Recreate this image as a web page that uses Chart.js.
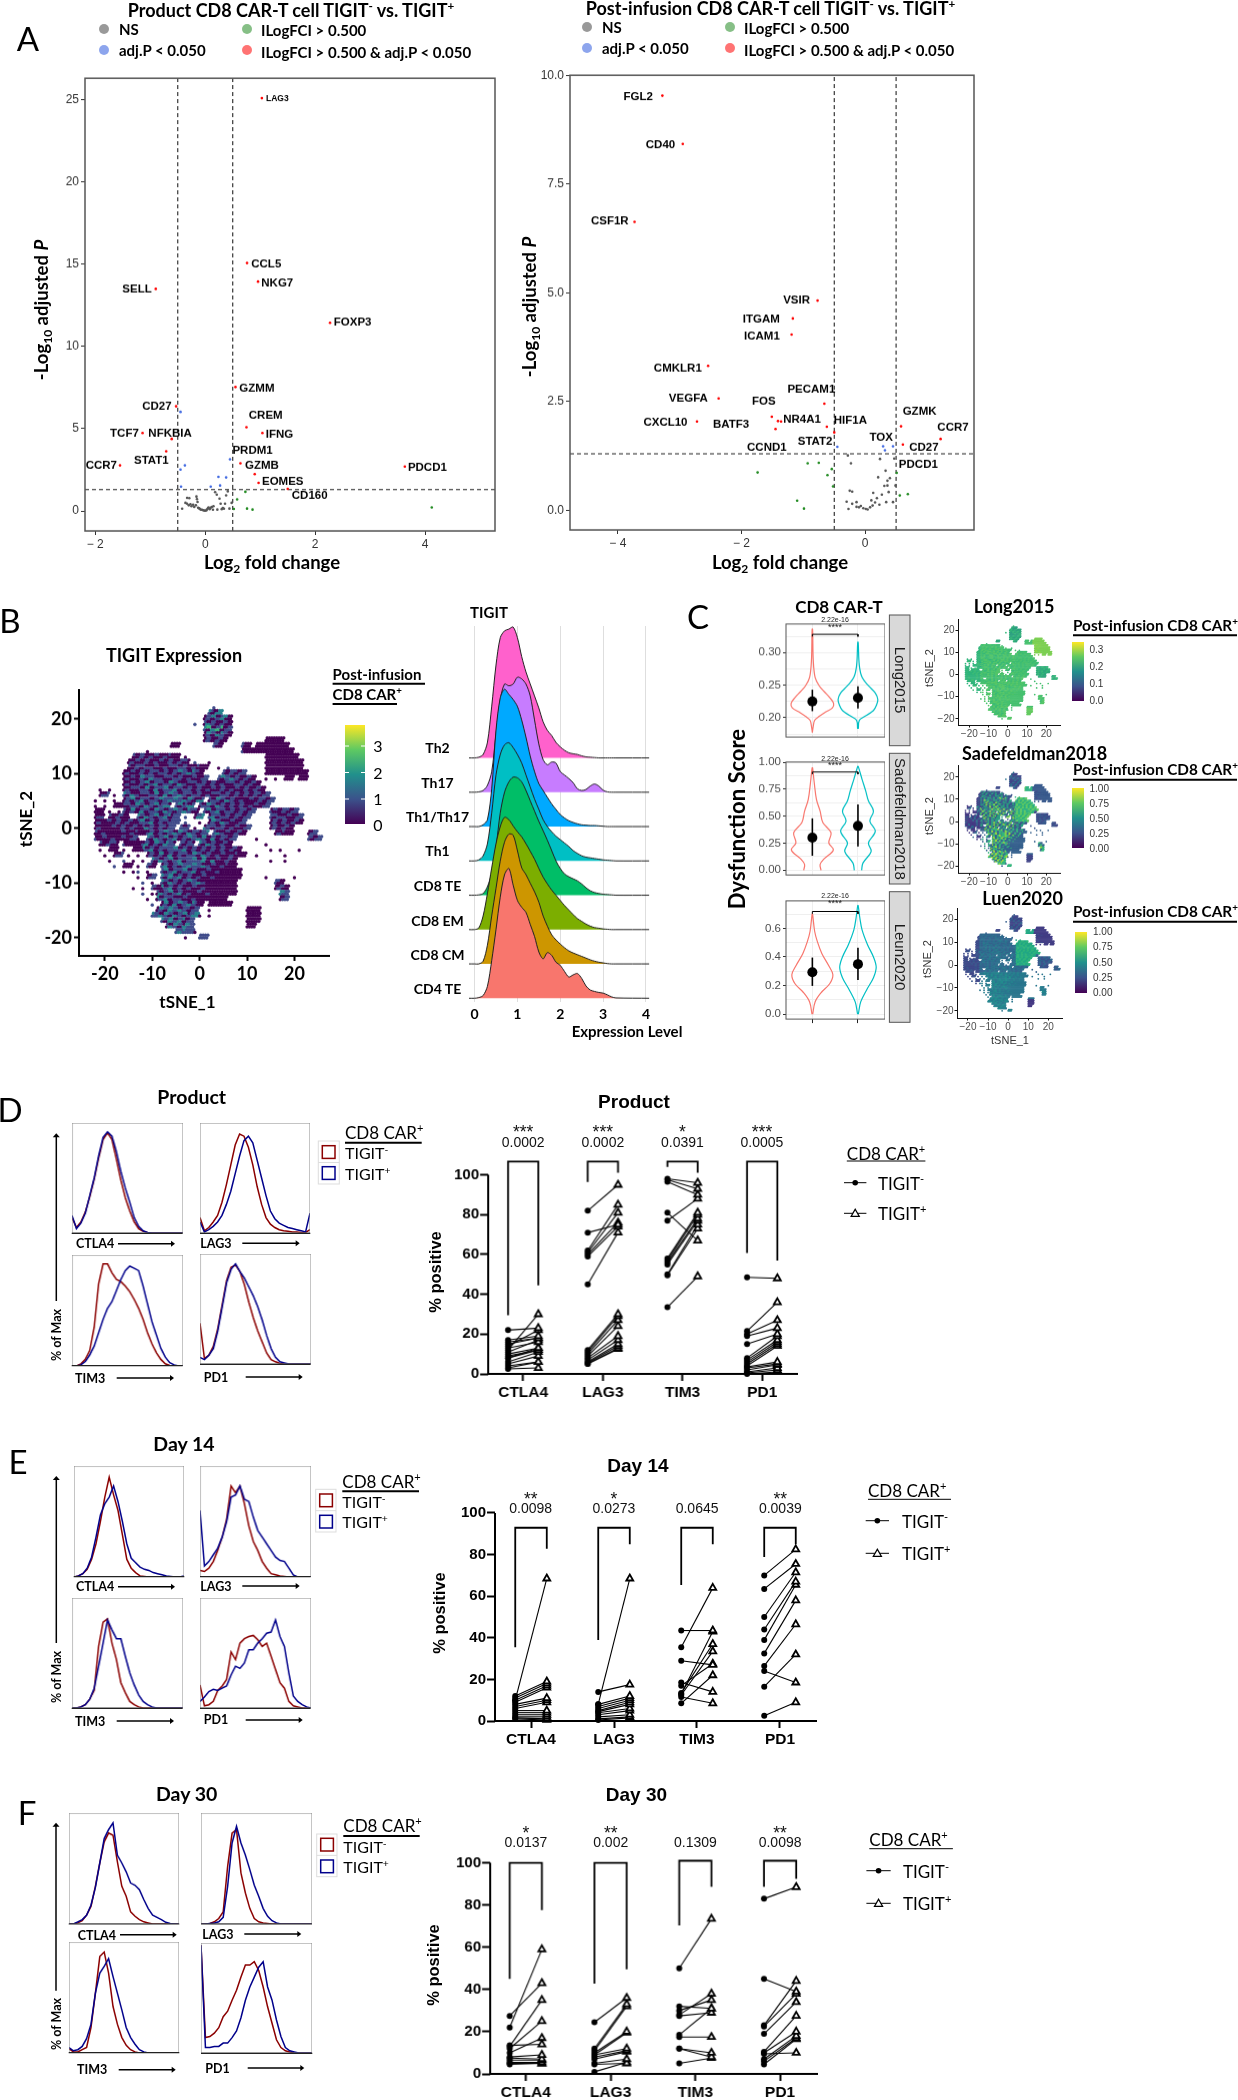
<!DOCTYPE html>
<html>
<head>
<meta charset="utf-8">
<script src="https://cdn.jsdelivr.net/npm/chart.js@4"></script>
<style>
html,body{margin:0;padding:0;background:#fff}
#page{position:relative;width:1238px;height:2100px;overflow:hidden;background:#fff}
canvas{position:absolute}
.t{position:absolute;white-space:nowrap;line-height:1;color:#000;z-index:2}
sup,sub{font-size:.65em;line-height:0}
#overlay{position:absolute;left:0;top:0;pointer-events:none;z-index:1}
</style>
</head>
<body>
<div id="page"></div>
<script>
// ---- panel A: volcano data [log2fc, -log10 padj]
const prodRed=[[1.03,25.07],[.76,15.06],[.96,13.93],[-.9,13.49],[2.27,11.43],[.55,7.53],[-.53,6.36],[.75,5.09],[1.04,4.74],[-1.14,4.74],[-.61,4.38],[-.71,3.63],[.64,2.9],[-1.55,2.77],[3.63,2.7],[.9,2.24],[.97,1.71],[1.5,1.35]];
const prodBlue=[[-.45,6.02],[.45,3.14],[-.37,2.77],[-.45,2.52],[.24,2.08],[.38,2.04],[-.44,1.48],[.1,1.48],[.27,1.55]];
const prodGreen=[[.73,1.17],[.58,.71],[.52,.13],[.76,.15],[.86,.09],[4.12,.22]];
const prodGrey=[[-.42,.14],[-.36,.5],[-.33,.8],[-.29,.78],[-.33,.45],[-.3,.35],[-.27,.42],[-.25,.3],[-.22,.38],[-.2,.25],[-.17,.35],[-.16,.88],[-.15,.72],[-.14,.55],[-.13,.2],[-.11,.17],[-.1,.13],[-.08,.08],[-.06,.08],[-.04,.05],[-.02,.03],[0,.02],[.02,.04],[.03,.1],[.05,.17],[.06,.22],[.08,.12],[.1,.2],[.12,.25],[.14,.08],[.15,.3],[.18,1.15],[.21,1],[.22,.09],[.26,.75],[.28,.45],[.3,.12],[.32,.18],[.34,.14],[.36,.45],[.38,.95],[.41,1.2],[.44,.15],[.48,.5]];
const prodLabels=[['LAG3',1.31,25.04,8.5],['CCL5',1.11,14.96],['NKG7',1.31,13.82],['SELL',-1.24,13.49],['FOXP3',2.68,11.43],['GZMM',.94,7.47],['CD27',-.88,6.36],['CREM',1.1,5.82],['IFNG',1.35,4.67],['TCF7',-1.47,4.7],['NFKBIA',-.64,4.72],['STAT1',-.98,3.08],['PRDM1',.86,3.67],['CCR7',-1.89,2.75],['PDCD1',4.04,2.61],['GZMB',1.03,2.75],['EOMES',1.41,1.77],['CD160',1.9,.96]];

const postRed=[[-3.28,9.53],[-2.95,8.42],[-3.73,6.63],[-.77,4.82],[-1.17,4.41],[-1.19,4.04],[-2.54,3.32],[-2.37,2.57],[-.66,2.45],[-2.72,2.04],[-1.51,2.15],[-1.41,2.05],[-1.36,2.04],[-1.45,1.87],[-.62,1.92],[-.5,1.79],[.58,1.93],[1.22,1.64],[.61,1.51]];
const postBlue=[[-.45,1.46],[.29,1.47],[.32,1.38],[.45,1.47]];
const postGreen=[[-.93,1.08],[-.75,1.09],[-.54,.95],[-1.74,.87],[-.61,.81],[-.52,.55],[-1.1,.22],[-.99,.04],[.56,.34],[.69,.37],[.51,.86]];
const postGrey=[[-.28,1.26],[-.23,1.08],[.24,1.18],[.47,1.19],[.33,.91],[.21,.76],[.4,.74],[.36,.68],[.31,.56],[.36,.57],[.49,.57],[-.25,.45],[-.21,.43],[.13,.4],[.27,.36],[.38,.42],[.19,.28],[.1,.23],[-.3,.2],[-.14,.19],[.34,.19],[.45,.19],[.23,.13],[-.21,.15],[-.07,.1],[-.14,.08],[.01,.03],[.04,.02],[-.1,.07],[-.03,.05],[-.27,.03],[.12,.11],[.08,.07],[.16,.18]];
const postLabels=[['FGL2',-3.67,9.51],['CD40',-3.31,8.4],['CSF1R',-4.13,6.65],['VSIR',-1.11,4.83],['ITGAM',-1.68,4.38],['ICAM1',-1.67,3.99],['CMKLR1',-3.03,3.27],['VEGFA',-2.86,2.57],['FOS',-1.64,2.49],['PECAM1',-.87,2.77],['CXCL10',-3.23,2.02],['BATF3',-2.17,1.98],['NR4A1',-1.02,2.09],['HIF1A',-.24,2.07],['GZMK',.88,2.27],['CCR7',1.42,1.89],['TOX',.26,1.66],['STAT2',-.81,1.57],['CCND1',-1.59,1.45],['CD27',.95,1.43],['PDCD1',.86,1.04]];

// ---- panel B/C: tSNE map, rows of [y, x0, levels, x0, levels...]
const tsneRows=[
[22,3,'1'],[21,2,'102'],[20,1,'010120'],[19,-1,'1',1,'021010'],[18,1,'102301'],[17,1,'010210'],
[16,1,'01010',14,'0000'],[15,-6,'00',3,'10',9,'10.00',14,'00000'],[14,-11,'0',9,'10000',14,'000000'],
[13,-14,'0010100100.0',14,'0001000'],[12,-15,'0100101001010.1',2,'0',14,'00100000'],
[11,-15,'00101100100110100',4,'0.1',14,'01000000'],[10,-16,'01001010110101210',5,'10101',14,'000100000'],
[9,-16,'010010211001101001',3,'.10121010',14,'0.0.00.00'],[8,-16,'01001012011021001101010011010'],
[7,-21,'0.0',-16,'010011020112011010100101001010'],[6,-21,'01.0',-16,'1021001102012101101001101010101'],
[5,-22,'0.0.0',-16,'01012011012112102.01102101000101'],[4,-22,'0.0.00',-16,'0011021012.1012.011021010101001'],
[3,-22,'00.0.0.',-16,'1010201102101210.10120110101',15,'100101'],[2,-22,'01.0010',-15,'0.102101201.1.02.120110101',15,'1011001'],
[1,-22,'010001010',-13,'011201011.1..0.01021001',15,'0101010'],[0,-22,'0100001010',-12,'0210101.11.0.2101101001',15,'01010'],
[-1,-22,'00100000100',-11,'1201012102101.1210010',16,'0100',23,'01'],[-2,-22,'100010001',-13,'0.1021012010121020101',12,'0',23,'101'],
[-3,-21,'0010.1000',-12,'1201021.101.1021010',14,'0'],[-4,-21,'0.00.0.00',-12,'012010111201010101010',15,'0',17,'0',21,'0'],
[-5,-20,'0.01.0',-13,'0.010102010110210100100',12,'0',18,'0'],[-6,-19,'0..1.0',-12,'0.102101201112020010',15,'0',18,'0'],
[-7,-18,'1.00',-13,'0.10',-8,'1201012112100100'],[-8,-16,'0.0',-13,'1.0.',-8,'10120112010010000'],
[-9,-13,'0.01..',-8,'10212010100100000',14,'0',20,'0'],[-10,-13,'.1.0',-8,'1021010121000000',16,'10'],
[-11,-14,'0.0.10',-8,'0120101001000000',16,'010'],[-12,-12,'1.0',-9,'02101201000100000',17,'21'],
[-13,-11,'0.1',-9,'012011001000000',17,'01'],[-14,-10,'1.010201210.00000'],[-15,-10,'.010212101',1,'.0',10,'000'],
[-16,-10,'1121021012',0,'0.0',10,'000'],[-17,-9,'.1021201',10,'000'],[-18,-7,'021021',10,'00'],
[-19,-5,'1211',-1,'0'],[-20,-3,'0',0,'11']];
const tigitColors=['#440154','#3e4a89','#26828e','#35b779'];
const longColors={ur:['#7ccf52','#8fd744','#6ece58'],top:['#2fa67c','#35b779','#2a9d80'],right:['#2fa67c','#35b779','#2a9d80'],bot:['#62c95f','#76d054','#5ac864'],band:['#48c16e','#3dbc74','#53c568'],left:['#2fb47c','#3bbb75','#26a784'],low:['#46c06f','#56c667','#3aba76'],mid:['#3fbc73','#52c569','#35b779']};
const sadeColors={ur:['#38598c','#3f4788','#2a788e'],top:['#3e4989','#2c728e','#414487'],right:['#38598c','#3f4788','#2a788e'],bot:['#404588','#33638d','#414487'],band:['#2ab07f','#5ec962','#1f968b'],left:['#443983','#2e6e8e','#29af7f'],low:['#35608d','#31b57b','#a0da39'],mid:['#3b528b','#2a9d80','#8bd646']};
const luenColors={ur:['#433e85','#3d4d8a','#3a548c'],top:['#3f4889','#355f8d','#414487'],right:['#3b528b','#31688e','#414487'],bot:['#443983','#404588','#414487'],band:['#22a884','#2fb47c','#1f9e89'],left:['#3e4989','#38578c','#2f6c8e'],low:['#2a768e','#26828e','#218f8d'],mid:['#33638d','#2c718e','#287c8e']};

// ---- panel B: ridge densities, one value per ridgeX
const ridgeX=[0,.1,.2,.3,.4,.5,.6,.7,.8,.9,1,1.1,1.2,1.3,1.4,1.5,1.6,1.7,1.8,1.9,2,2.1,2.2,2.3,2.4,2.5,2.6,2.7,2.8,2.9,3,3.1,3.2,3.3];
const ridgeNames=['CD4 TE','CD8 CM','CD8 EM','CD8 TE','Th1','Th1/Th17','Th17','Th2'];
const ridgeNameY=[989.3,955,920.7,886,851.3,817,782.7,748];
const ridgeColors=['#F8766D','#CD9600','#7CAE00','#00BE67','#00BFC4','#00A9FF','#C77CFF','#FF61CC'];
const rCd4te=[0,.02,.08,.35,1.1,2,2.95,3.6,3.78,3.3,2.85,2.65,2.5,2.15,1.8,1.35,1.15,1.33,1.25,1.05,.96,.78,.62,.68,.72,.58,.36,.24,.2,.17,.15,.1,.04,.01];
const rCd8cm=[0,0,.08,.55,1.4,2.2,3,3.55,3.78,3.75,3.3,2.8,2.6,2.35,2.1,1.8,1.4,1.1,.85,.7,.58,.47,.38,.32,.27,.22,.17,.12,.08,.05,.03,.01,0,0];
const rCd8em=[0,.05,.4,1.05,1.8,2.5,3,3.27,3.2,3.02,2.85,2.7,2.5,2.28,2.05,1.78,1.53,1.33,1.15,1,.85,.7,.57,.44,.32,.24,.16,.1,.06,.04,.02,.01,0,0];
const rCd8te=[0,.01,.05,.25,.65,1.4,2.4,3,3.3,3.44,3.42,3.3,3.05,2.75,2.45,2.15,1.88,1.6,1.3,1,.78,.62,.54,.48,.42,.33,.22,.13,.08,.05,.03,.02,.01,0];
const rTh1=[0,.03,.15,.5,1.4,2.5,3.1,3.38,3.44,3.3,3.1,2.85,2.5,2.15,1.8,1.5,1.2,1,.85,.72,.62,.52,.42,.3,.22,.15,.11,.09,.07,.05,.03,.02,.01,0];
const rTh1Th17=[0,0,.05,.2,1.1,2.8,3.75,4,3.85,3.7,3.5,3.1,2.6,2.05,1.6,1.25,1.05,.85,.66,.5,.35,.25,.17,.12,.08,.05,.04,.03,.03,.02,.01,0,0,0];
const rTh17=[0,.01,.05,.2,.6,1.7,2.7,3.15,3.1,3.15,3.35,3.3,3.15,2.8,2.1,1.4,.95,.8,.88,.85,.6,.5,.4,.28,.1,.05,.08,.18,.24,.18,.06,.01,0,0];
const rTh2=[0,.02,.1,.45,1.5,2.7,3.5,3.7,3.75,3.81,3.5,2.95,2.5,2.15,1.8,1.45,1.05,.8,.65,.45,.32,.22,.15,.12,.1,.06,.03,.02,.01,0,0,0,0,0];

// ---- panel C: violins, half-width at score
const v1RedY=[.177,.187,.196,.202,.209,.215,.222,.231,.24,.249,.262,.288,.336], v1RedW=[0,.02,.05,.15,.3,.44,.466,.38,.26,.15,.06,.02,.005];
const v1TealY=[.183,.196,.202,.211,.22,.228,.238,.249,.262,.28,.316], v1TealW=[.008,.03,.15,.34,.41,.436,.38,.23,.09,.03,.005];
const v2RedY=[0,.053,.107,.187,.254,.348,.441,.548,.655,.815,.949], v2RedW=[.19,.17,.26,.46,.36,.41,.23,.17,.09,.04,.005];
const v2TealY=[0,.067,.174,.254,.361,.455,.548,.642,.735,.842,.963], v2TealW=[.08,.11,.29,.23,.38,.26,.34,.23,.17,.09,.005];
const v3RedY=[0,.086,.15,.213,.276,.339,.423,.507,.58,.7], v3RedW=[.008,.06,.19,.38,.45,.36,.21,.11,.05,.005];
const v3TealY=[0,.086,.17,.255,.328,.4,.486,.59,.676,.76], v3TealW=[.008,.06,.19,.34,.4,.34,.21,.09,.04,.005];
const violinStats=[[[.225,.21,.243],[.2305,.214,.248]],[[.302,.134,.48],[.41,.22,.61]],[[.293,.198,.396],[.35,.24,.465]]];
const bracketLevels=[.328,.91,.718];

// ---- panels D-F: flow histograms (% of max every 4 units of the x range)
const histX=[0,4,8,12,16,20,24,28,32,36,40,44,48,52,56,60,64,68,72,76,80,84,88,92,96,100];
const dCtlaNeg=[14,5,10,19,33,49,68,85,91,85,67,48,32,20,10,4,1.5,.5];
const dCtlaPos=[16,4,9,18,34,50,70,87,92,88,74,56,41,28,14,6,2,.5];
const dLagNeg=[14,2,5,10,16,28,44,62,80,90,88,78,62,42,26,14,8,5,3,2,1.5,1,1,.5,.5,3];
const dLagPos=[10,1,3,6,10,16,26,38,54,70,84,88,82,66,50,34,20,13,9,7,5,4,3,2,1,18];
const dTimNeg=[0,0,2,6,14,35,74,92,92,84,78,76,72,67,60,52,42,30,20,12,6,2,.5];
const dTimPos=[0,0,1,4,10,18,30,42,52,58,68,78,86,90,88,86,72,56,40,28,16,8,3,1];
const dPdNeg=[37,5,8,16,32,54,76,88,90,84,72,56,42,30,20,10,4,2,.5];
const dPdPos=[6,4,8,14,30,52,74,86,91,84,78,70,62,52,40,26,14,6,2,1];
const eCtlaNeg=[0,1,3,7,16,30,50,72,90,74,60,38,16,8,4,1,.5];
const eCtlaPos=[0,1,3,8,18,36,56,66,72,82,68,50,30,17,13,9,7,6,4,3,2,1,.5,0,0,1];
const eLagNeg=[6,5,8,14,24,36,52,82,76,82,66,46,32,24,14,8,3,2,1,.5];
const eLagPos=[60,10,14,20,26,36,50,72,74,82,70,68,54,42,36,30,24,18,15,14,8,2];
const eTimNeg=[0,0,1,3,8,16,56,78,81,59,44,23,14,6,3,1];
const eTimPos=[0,0,1,3,8,18,38,59,80,71,63,63,47,32,21,12,6,3,1];
const ePdNeg=[21,2,3,6,16,20,26,51,44,59,63,65,66,62,56,59,47,35,23,18,6,2,1];
const ePdPos=[6,10,15,17,16,18,20,30,38,36,41,53,53,59,63,68,69,80,65,56,32,11,6,3,1];
const fCtlaNeg=[0,0,1,3,8,16,34,55,74,82,80,56,34,25,11,7,4,2,1];
const fCtlaPos=[0,0,2,4,8,17,33,55,77,85,91,62,55,47,37,35,31,22,14,8,6,4,1.5,.5];
const fLagNeg=[0,0,.5,2,5,11,52,82,85,46,28,14,5,2,1,.5];
const fLagPos=[0,0,.5,1,2,6,34,73,88,73,62,49,35,25,14,7,3,1];
const fTimNeg=[4,1,1,3,5,23,54,87,91,72,42,26,14,7,3,1];
const fTimPos=[5,2,3,6,13,26,54,72,78,85,69,54,39,23,14,8,3,1];
const fPdNeg=[98,14,15,18,23,33,38,48,57,69,80,80,83,75,60,42,27,12,5,2,1];
const fPdPos=[98,5,5,6,6,9,9,14,20,32,48,60,69,78,83,60,48,30,15,5,2,1];

// ---- panels D-F: paired % positive [TIGIT-, TIGIT+]
const markers=['CTLA4','LAG3','TIM3','PD1'];
const prodCtla=[[22,23],[12,30],[17,19],[16,18],[15,18],[13,16],[11,17],[10,13],[9,12],[8,12],[6,11],[5,9],[4,6],[3,6],[2.5,3],[8,13],[14,22]];
const prodLag=[[82,95],[71,75],[62,85],[61,81],[60,76],[59,74],[45,71],[12,30],[11,29],[10,27],[9,24],[8,19],[7,17],[6,15],[5.5,14],[5,13],[5,12.5]];
const prodTim=[[98,96],[97.5,93],[96.5,90],[81,67],[77,88],[58,81],[57,80],[56,78],[55,77],[50,75],[49.5,73],[33.5,49]];
const prodPd=[[48.5,48],[21.5,36],[20,27],[19,23],[15,20],[8,19],[7,17],[6,16],[5,15],[4,14],[3.5,6],[3,5],[2,4.5],[1,3],[.5,2],[0,1]];
const d14Ctla=[[12,19],[11,18],[10,17],[9,16],[8,11],[7,10],[6,9],[5,5],[4,4],[3,3],[2,2],[1.5,1],[1,.5],[10,68.5]];
const d14Lag=[[8,68.5],[14,17.5],[8,12],[7,11],[6,10],[5,9],[4.5,8],[4,6],[3,5],[2,3],[1,2],[.5,1.5]];
const d14Tim=[[43.5,43.5],[35.5,64],[29,27],[18.5,14],[17,27.5],[13.5,37],[12.5,33.5],[11.5,8.5],[8.5,22],[13,43]];
const d14Pd=[[70,82.5],[63.5,75.5],[50,71.5],[44,67],[39,65.5],[32.5,58],[26.5,46.5],[24,18.5],[16.5,32],[2.5,9]];
const d30Ctla=[[27.5,43],[22,59],[13.5,14],[13,35],[12,25],[10,17],[8,9],[7.5,7],[6.5,6.5],[5.5,5.5],[5,5],[4.5,5]];
const d30Lag=[[24.5,36],[12,33],[11,32],[10,20],[9,19.5],[9,12],[8,11],[7,10.5],[5,7],[4.5,5],[1,5.5]];
const d30Tim=[[50,73.5],[32,31],[30,35],[28,38],[27.5,29],[18.5,31],[17.5,17.5],[12,10],[12,8],[5,7.5]];
const d30Pd=[[83,88.5],[45,39],[23,44],[22.5,38],[19,34],[10.5,27.5],[10,20],[9.5,10],[7,18],[6,17],[4.5,16.5]];
const prodBrackets=[[29.5,106.7,44.5],[96.4,106.7,101],[104,106.7,101],[60.7,106.7,57]];
const d14Brackets=[[35.4,92.9,82.8],[39,92.9,85],[65.4,92.9,85],[78.9,92.9,85]];
const d30Brackets=[[45,100,77.6],[42.8,100,49.5],[70.4,101,88.7],[88.7,101,92.5]];
const prodP=['0.0002','0.0002','0.0391','0.0005'], prodStars=['***','***','*','***'];
const d14P=['0.0098','0.0273','0.0645','0.0039'], d14Stars=['**','*','','**'];
const d30P=['0.0137','0.002','0.1309','0.0098'], d30Stars=['*','**','','**'];

// ---- helpers
const page=document.getElementById('page');
const LATO='Lato, sans-serif', ARIAL='"Liberation Sans", Arial, sans-serif';
let overlay='';

function txt(s,x,y,o={}){
  const d=document.createElement('div');
  d.className='t';
  d.innerHTML=s;
  d.style.left=x+'px';
  d.style.top=y+'px';
  d.style.fontFamily=o.font||LATO;
  d.style.fontSize=(o.size||14)+'px';
  d.style.fontWeight=o.weight||'normal';
  if(o.color) d.style.color=o.color;
  let tr=o.left?'translate(0,-50%)':'translate(-50%,-50%)';
  if(o.rot) tr+=' rotate('+o.rot+'deg)';
  d.style.transform=tr;
  page.appendChild(d);
  return d;
}
function line(x1,y1,x2,y2,c='#000',w=1){
  overlay+=`<line x1="${x1}" y1="${y1}" x2="${x2}" y2="${y2}" stroke="${c}" stroke-width="${w}"/>`;
}
function arrowRight(x1,x2,y){
  line(x1,y,x2-2,y,'#000',1.5);
  overlay+=`<polygon points="${x2},${y} ${x2-4},${y-3} ${x2-4},${y+3}" fill="#000"/>`;
}
function arrowUp(x,y1,y2){
  line(x,y1,x,y2+2,'#000',1.5);
  overlay+=`<polygon points="${x},${y2} ${x-3.5},${y2+4} ${x+3.5},${y2+4}" fill="#000"/>`;
}
function rect(x,y,w,h,c,lw,fill='none'){
  overlay+=`<rect x="${x}" y="${y}" width="${w}" height="${h}" fill="${fill}" stroke="${c}" stroke-width="${lw}"/>`;
}
function dot(x,y,r,c,op=1){
  overlay+=`<circle cx="${x}" cy="${y}" r="${r}" fill="${c}" fill-opacity="${op}"/>`;
}
function colorbar(x,y,w,h){
  const d=document.createElement('div');
  d.style.cssText=`position:absolute;left:${x}px;top:${y}px;width:${w}px;height:${h}px;background:linear-gradient(to top,#440154,#3b528b,#21908c,#5ec962,#fde725)`;
  page.appendChild(d);
}

const framePlugin={id:'frame',afterDraw(c,a,o){
  if(!o.color) return;
  const r=c.chartArea,x=c.ctx;
  x.save();x.strokeStyle=o.color;x.lineWidth=o.width||1;
  x.strokeRect(r.left,r.top,r.right-r.left,r.bottom-r.top);
  x.restore();
}};
const geneLabels={id:'geneLabels',afterDatasetsDraw(c,a,o){
  if(!o.items) return;
  const x=c.ctx;
  x.save();x.fillStyle='#000';x.textAlign='center';x.textBaseline='middle';
  o.items.forEach(l=>{
    x.font='bold '+(l[3]||11.5)+'px '+ARIAL;
    x.fillText(l[0],c.scales.x.getPixelForValue(l[1]),c.scales.y.getPixelForValue(l[2]));
  });
  x.restore();
}};
Chart.register(framePlugin,geneLabels);

const fixedTicks=v=>s=>{s.ticks=v.map(value=>({value}))};

// box is the plot area in page pixels, m the room round it for axes
function makeChart(box,m,cfg){
  const c=document.createElement('canvas');
  const w=box.r-box.l+m.l+m.r, h=box.b-box.t+m.t+m.b;
  c.width=w;c.height=h;
  c.style.left=(box.l-m.l)+'px';c.style.top=(box.t-m.t)+'px';
  c.style.width=w+'px';c.style.height=h+'px';
  page.appendChild(c);
  const o=cfg.options=cfg.options||{};
  o.responsive=false;o.animation=false;o.devicePixelRatio=1;
  o.layout={autoPadding:false,padding:{top:m.t,right:m.r,left:0,bottom:0}};
  o.plugins=Object.assign({legend:{display:false},tooltip:{enabled:false}},o.plugins||{});
  if(o.scales.x.display!==false) o.scales.x.afterFit=s=>{s.height=m.b};
  if(o.scales.y.display!==false) o.scales.y.afterFit=s=>{s.width=m.l};
  return new Chart(c,cfg);
}
const pts=a=>a.map(p=>({x:p[0],y:p[1]}));

// ---- A
function volcano(box,xr,yr,xt,yt,yFmt,sets,labels){
  const dots=(data,color)=>({type:'scatter',data:pts(data),pointRadius:1.3,pointBorderWidth:0,backgroundColor:color});
  const dash=data=>({type:'line',data:pts(data),borderColor:'#222',borderWidth:1.1,borderDash:[4,3],pointRadius:0});
  makeChart(box,{l:40,r:2,t:2,b:30},{type:'scatter',data:{datasets:[
    dots(sets.red,'#ff0000'),dots(sets.blue,'#4169e1'),dots(sets.green,'#228b22'),dots(sets.grey,'#555555'),
    dash([[-.5,yr[0]],[-.5,yr[1]]]),dash([[.5,yr[0]],[.5,yr[1]]]),dash([[xr[0],1.3],[xr[1],1.3]])
  ]},options:{
    plugins:{frame:{color:'#555',width:1.5},geneLabels:{items:labels}},
    scales:{
      x:{type:'linear',min:xr[0],max:xr[1],afterBuildTicks:fixedTicks(xt),border:{display:false},
        grid:{drawOnChartArea:false,tickLength:4,tickColor:'#333'},
        ticks:{color:'#333',font:{family:ARIAL,size:12},maxRotation:0,autoSkip:false,padding:2,callback:v=>String(v).replace('-','\u2212 ')}},
      y:{min:yr[0],max:yr[1],afterBuildTicks:fixedTicks(yt),border:{display:false},
        grid:{drawOnChartArea:false,tickLength:4,tickColor:'#333'},
        ticks:{color:'#333',font:{family:ARIAL,size:12},autoSkip:false,padding:2,callback:yFmt}}
    }}});
}
volcano({l:84.7,r:495.3,t:71,b:530.5},[-2.187,5.27],[-1.21,26.28],[-2,0,2,4],[0,5,10,15,20,25],v=>v,
  {red:prodRed,blue:prodBlue,green:prodGreen,grey:prodGrey},prodLabels);
volcano({l:569.5,r:974.2,t:68,b:529.8},[-4.774,1.76],[-.452,10],[-4,-2,0],[0,2.5,5,7.5,10],v=>v.toFixed(1),
  {red:postRed,blue:postBlue,green:postGreen,grey:postGrey},postLabels);

txt('A',28,38,{size:33});
txt('Product CD8 CAR-T cell TIGIT<sup>-</sup> vs. TIGIT<sup>+</sup>',291,10,{size:18,weight:'bold'});
txt('Post-infusion CD8 CAR-T cell TIGIT<sup>-</sup> vs. TIGIT<sup>+</sup>',770.5,8,{size:18,weight:'bold'});
function volcanoLegend(x1,x2,tx1,tx2,y1,y2){
  dot(x1,y1,5,'#808080',.8);dot(x1,y2,5,'#4169e1',.6);dot(x2,y1,5,'#228b22',.55);dot(x2,y2,5,'#ff0000',.55);
  txt('NS',tx1,y1,{size:15,weight:'bold',left:1});
  txt('adj.P &lt; 0.050',tx1,y2,{size:15,weight:'bold',left:1});
  txt('ILogFCI &gt; 0.500',tx2,y1+1,{size:15,weight:'bold',left:1});
  txt('ILogFCI &gt; 0.500 &amp; adj.P &lt; 0.050',tx2,y2+2,{size:15,weight:'bold',left:1});
}
volcanoLegend(104,247,119,261,29,50);
volcanoLegend(587,730,602,744,27,48);
txt('-Log<sub>10</sub> adjusted <i>P</i>',41,310,{size:18.5,weight:'bold',rot:-90});
txt('-Log<sub>10</sub> adjusted <i>P</i>',529,307,{size:18.5,weight:'bold',rot:-90});
txt('Log<sub>2</sub> fold change',272,562,{size:18.5,weight:'bold'});
txt('Log<sub>2</sub> fold change',780,562,{size:18.5,weight:'bold'});

// ---- B/C tSNE
function regionOf(x,y){
  if(x>=13&&y>=9) return 'ur';
  if(y>=15&&x<9) return 'top';
  if(x>=14&&y<5&&y>-3) return 'right';
  if(x>=9.5&&y<=-15) return 'bot';
  if(x>=4&&y>=0) return 'band';
  if(x<-14) return 'left';
  if(y<-3) return 'low';
  return 'mid';
}
function tsneCells(colorFor){
  const xy=[],col=[];
  const add=(x,y,l)=>{xy.push({x,y});col.push(colorFor(x,y,l))};
  const filled=c=>c!==undefined&&c!=='.';
  tsneRows.forEach(r=>{
    for(let k=1;k<r.length;k+=2){
      const s=r[k+1];
      for(let i=0;i<s.length;i++){
        if(s[i]==='.') continue;
        const x=r[k]+i,y=r[0],l=+s[i];
        add(x,y,l);
        // a cell with a neighbour holds four dots, coloured from the row next to it
        if(filled(s[i-1])||filled(s[i+1])){
          const lv=c=>filled(c)?+c:l;
          add(x+.5,y,lv(s[i+1]));
          add(x+.25,y+.5,lv(s[i+2]));
          add(x+.75,y+.5,lv(s[i+3]));
        }
      }
    }
  });
  return {xy,col};
}
function tsne(box,xr,yr,radius,colorFor,axis){
  const cells=tsneCells(colorFor);
  makeChart(box,{l:axis.l,r:0,t:0,b:axis.b},{type:'scatter',data:{datasets:[{data:cells.xy,pointRadius:radius,pointBorderWidth:0,pointBackgroundColor:cells.col}]},
  options:{scales:{
    x:{type:'linear',min:xr[0],max:xr[1],afterBuildTicks:fixedTicks([-20,-10,0,10,20]),border:{color:axis.color,width:axis.w},
      grid:{drawOnChartArea:false,tickLength:axis.tl,tickColor:axis.color,tickWidth:axis.w},
      ticks:{color:axis.text,font:axis.font,maxRotation:0,autoSkip:false,padding:axis.pad,callback:axis.fmt}},
    y:{min:yr[0],max:yr[1],afterBuildTicks:fixedTicks(axis.yt),border:{color:axis.color,width:axis.w},
      grid:{drawOnChartArea:false,tickLength:axis.tl,tickColor:axis.color,tickWidth:axis.w},
      ticks:{color:axis.text,font:axis.font,autoSkip:false,padding:axis.pad,callback:axis.fmt}}
  }}});
}
tsne({l:78.6,r:330.4,t:677.3,b:955.7},[-25.45,27.5],[-23.3,25.3],1.7,(x,y,l)=>{
    if(regionOf(x,y)==='ur') return tigitColors[0];
    return tigitColors[l];
  },{l:50,b:36,color:'#000',w:2,tl:5,text:'#000',pad:2,font:{family:LATO,size:18,weight:'bold'},yt:[-20,-10,0,10,20],fmt:v=>v});
txt('B',10,620,{size:33});
txt('TIGIT Expression',174,655,{size:18,weight:'bold'});
txt('tSNE_1',187.5,1001,{size:17,weight:'bold'});
txt('tSNE_2',25,819,{size:17,weight:'bold',rot:-90});
txt('Post-infusion',332.6,674,{size:15,weight:'bold',left:1});
line(332.6,683.7,425,683.7,'#000',2);
txt('CD8 CAR<sup>+</sup>',332.6,694,{size:15,weight:'bold',left:1});
line(332.6,704,397,704,'#000',2);
colorbar(345,725,20,99);
[[3,746],[2,772.5],[1,799]].forEach(t=>{line(345,t[1],349,t[1],'#fff',1);line(361,t[1],365,t[1],'#fff',1)});
[['3',746],['2',772.5],['1',799],['0',825]].forEach(t=>txt(t[0],378,t[1],{size:16}));

// ---- B ridges, drawn back to front (first dataset is on top)
const ridgeVals=[rCd4te,rCd8cm,rCd8em,rCd8te,rTh1,rTh1Th17,rTh17,rTh2];
makeChart({l:468.8,r:654,t:626,b:1001.7},{l:10,r:0,t:0,b:24},{type:'line',data:{datasets:ridgeVals.map((v,b)=>({
    data:[{x:-.13,y:b}].concat(ridgeX.map((x,i)=>({x,y:b+v[i]})),[{x:4.08,y:b}]),
    borderColor:'#222',borderWidth:1,backgroundColor:ridgeColors[b],fill:{value:b},tension:.3,pointRadius:0
  }))},options:{scales:{
    x:{type:'linear',min:-.13,max:4.08,afterBuildTicks:fixedTicks([0,1,2,3,4]),border:{display:false},
      grid:{color:'#dedede',drawTicks:false},
      ticks:{color:'#000',font:{family:LATO,size:14,weight:'bold'},maxRotation:0,autoSkip:false,padding:4,callback:v=>v}},
    y:{min:-.108,max:10.84,afterBuildTicks:fixedTicks([0,1,2,3,4,5,6,7]),border:{display:false},
      grid:{display:false},ticks:{display:false}}
  }}});
ridgeNames.forEach((n,i)=>txt(n,437.5,ridgeNameY[i],{size:14,weight:'bold'}));
txt('TIGIT',489,612,{size:15,weight:'bold'});
txt('Expression Level',627,1030.7,{size:15,weight:'bold'});

// ---- C violins
function violinShape(c,ys,ws){
  const right=ys.map((y,i)=>({x:c+ws[i],y}));
  const left=ys.map((y,i)=>({x:c-ws[i],y})).reverse();
  return right.concat(left);
}
function violinPanel(t,b,yr,majors,allTicks,red,teal,idx,fmt,showX){
  const stats=violinStats[idx];
  const shape=(c,d,col)=>({data:violinShape(c,d[0],d[1]),borderColor:col,borderWidth:1.2,tension:.35,pointRadius:0,fill:false});
  const err=(c,s)=>({data:[{x:c,y:s[1]},{x:c,y:s[2]}],borderColor:'#000',borderWidth:1.6,pointRadius:0});
  const mid=(c,s)=>({data:[{x:c,y:s[0]}],pointRadius:5,backgroundColor:'#000',borderWidth:0});
  const lv=bracketLevels[idx];
  const br={data:[{x:1,y:lv-(yr[1]-yr[0])*.02},{x:1,y:lv},{x:2,y:lv},{x:2,y:lv-(yr[1]-yr[0])*.02}],borderColor:'#000',borderWidth:1,pointRadius:0};
  makeChart({l:785.8,r:885,t,b},{l:40,r:0,t:0,b:showX?6:0.01},{type:'line',data:{datasets:[
    mid(1,stats[0]),mid(2,stats[1]),err(1,stats[0]),err(2,stats[1]),br,shape(1,red,'#F8766D'),shape(2,teal,'#00BFC4')
  ]},options:{plugins:{frame:{color:'#555',width:1}},scales:{
    x:{type:'linear',min:.422,max:2.593,afterBuildTicks:fixedTicks([1,2]),border:{display:false},
      grid:{color:'#efefef',tickColor:showX?'#222':'transparent',tickLength:showX?4:0},
      ticks:{display:false}},
    y:{min:yr[0],max:yr[1],afterBuildTicks:fixedTicks(allTicks),border:{display:false},
      grid:{color:'#efefef',tickLength:3,tickColor:c=>majors.includes(c.tick.value)?'#333':'transparent'},
      ticks:{color:'#4d4d4d',font:{family:ARIAL,size:11.5},autoSkip:false,padding:2,callback:v=>majors.includes(v)?fmt(v):''}}
  }}});
}
violinPanel(615,745.7,[.1703,.3438],[.2,.25,.3],[.175,.2,.225,.25,.275,.3,.325],[v1RedY,v1RedW],[v1TealY,v1TealW],0,v=>v.toFixed(2),false);
violinPanel(753.3,884,[-.045,1.0027],[0,.25,.5,.75,1],[0,.125,.25,.375,.5,.625,.75,.875,1],[v2RedY,v2RedW],[v2TealY,v2TealW],1,v=>v.toFixed(2),false);
violinPanel(891.7,1022.3,[-.034,.792],[0,.2,.4,.6],[0,.1,.2,.3,.4,.5,.6,.7],[v3RedY,v3RedW],[v3TealY,v3TealW],2,v=>v.toFixed(1),true);
[['Long2015',615,745.7],['Sadefeldman2018',753.3,884],['Leun2020',891.7,1022.3]].forEach(s=>{
  rect(889.4,s[1],20.6,s[2]-s[1],'#555',1,'#d9d9d9');
  txt(s[0],899.7,(s[1]+s[2])/2,{size:15,font:ARIAL,rot:90,color:'#1a1a1a'});
});
[[619.3,625],[757.7,763],[895.3,901]].forEach(p=>{
  txt('2.22e-16',835,p[0],{size:7,font:ARIAL,color:'#222'});
  txt('****',835,p[1]+2,{size:9,font:ARIAL,color:'#222'});
});
txt('C',698,616,{size:33});
txt('CD8 CAR-T',839,605.7,{size:17,weight:'bold'});
txt('Dysfunction Score',737,819,{size:22,weight:'bold',rot:-90});

// ---- C tSNE panels
function cAxis(){return {l:30,b:18,color:'#111',w:1,tl:2.5,text:'#4d4d4d',pad:1,font:{family:ARIAL,size:10},yt:[-20,-10,0,10,20],fmt:v=>String(v).replace('-','\u2212')}}
const cColor=p=>(x,y,l)=>p[regionOf(x,y)][Math.min(l,2)];
function rangeFrom(box,x0,pxX,y0,pxY){
  return {x:[(box.l-x0)/pxX,(box.r-x0)/pxX],y:[(y0-box.b)/pxY,(y0-box.t)/pxY]};
}
const bLong={l:958,r:1061.4,t:611.7,b:725}, bSade={l:958,r:1061.4,t:758.3,b:872.7}, bLuen={l:956.7,r:1063,t:900.7,b:1018.3};
let rg=rangeFrom(bLong,1008,1.93,671.2,2.36);
tsne(bLong,rg.x,rg.y,.85,cColor(longColors),cAxis());
rg=rangeFrom(bSade,1008,1.93,818.2,2.36);
tsne(bSade,rg.x,rg.y,.85,cColor(sadeColors),cAxis());
rg=rangeFrom(bLuen,1008,2.015,961.8,2.44);
tsne(bLuen,rg.x,rg.y,.9,cColor(luenColors),cAxis());
txt('Long2015',1014,605.7,{size:18,weight:'bold'});
txt('Sadefeldman2018',1034.6,753,{size:18,weight:'bold'});
txt('Luen2020',1022.6,898,{size:18,weight:'bold'});
[['tSNE_2',929,668],['tSNE_2',929,815.7],['tSNE_2',926.5,959.3]].forEach(s=>txt(s[0],s[1],s[2],{size:11,font:ARIAL,color:'#333',rot:-90}));
txt('tSNE_1',1010,1040,{size:11,font:ARIAL,color:'#333'});
[[625.7,635.3],[770,779.7],[911.7,921.7]].forEach(p=>{
  txt('Post-infusion CD8 CAR<sup>+</sup>',1073,p[0],{size:15.3,weight:'bold',left:1});
  line(1073,p[1],1237,p[1],'#000',2);
});
colorbar(1072.3,641.7,12,59.5);
colorbar(1072.3,788.3,12,60);
colorbar(1074.7,931.7,12,61.6);
[['0.3',650],['0.2',667.3],['0.1',684.3],['0.0',701.3]].forEach(t=>txt(t[0],1089.5,t[1],{size:10,font:ARIAL,left:1,color:'#333'}));
[['1.00',789],['0.75',803.7],['0.50',818.7],['0.25',833.7],['0.00',848.7]].forEach(t=>txt(t[0],1089.5,t[1],{size:10,font:ARIAL,left:1,color:'#333'}));
[['1.00',932],['0.75',947.3],['0.50',962.7],['0.25',978],['0.00',993.3]].forEach(t=>txt(t[0],1093,t[1],{size:10,font:ARIAL,left:1,color:'#333'}));

// ---- D-F flow histograms
function hist(box,neg,pos){
  const series=(v,c)=>({data:histX.map((x,i)=>({x,y:v[i]||0})),borderColor:c,borderWidth:1.5,pointRadius:0,fill:false,tension:0});
  makeChart(box,{l:0,r:0,t:0,b:0},{type:'line',data:{datasets:[series(pos,'#00008b'),series(neg,'#8b0000')]},
    options:{plugins:{frame:{color:'#8a8a8a',width:1}},scales:{x:{display:false,type:'linear',min:0,max:100},y:{display:false,min:0,max:100}}}});
}
function flowPanel(boxes,data,lab,title,letter,legend,pct){
  boxes.forEach((b,i)=>{
    hist({l:b[0],r:b[1],t:b[2],b:b[3]},data[i][0],data[i][1]);
    line(b[0],b[3],b[1],b[3],'#222',1.2);
    txt(markers[i],lab[i][0],lab[i][1],{size:12.5,weight:'bold',left:1});
    arrowRight(lab[i][2],lab[i][3],lab[i][4]);
  });
  txt(title[0],title[1],title[2],{size:19.5,weight:'bold'});
  txt(letter[0],letter[1],letter[2],{size:33});
  txt('CD8 CAR<sup>+</sup>',legend.x,legend.y[0],{size:17,left:1});
  line(legend.x,legend.y[1],legend.x2,legend.y[1],'#000',2);
  txt('TIGIT<sup>-</sup>',legend.x,legend.y[2],{size:16,left:1});
  txt('TIGIT<sup>+</sup>',legend.x,legend.y[3],{size:16,left:1});
  const bx=legend.box;
  rect(bx[0],bx[1],bx[2]-bx[0],bx[3]-bx[1],'#ddd',1);
  line(bx[0],(bx[1]+bx[3])/2,bx[2],(bx[1]+bx[3])/2,'#ddd',1);
  rect(bx[0]+4,legend.sq[0],12.7,12.7,'#8b0000',1.5);
  rect(bx[0]+4,legend.sq[1],12.7,12.7,'#00008b',1.5);
  txt('% of Max',pct[0],pct[1],{size:12.5,weight:'bold',rot:-90});
  arrowUp(pct[2],pct[3],pct[4]);
}
flowPanel([[71.7,182.7,1122.7,1233.3],[200,310.3,1122.7,1233.3],[71.7,182.7,1255,1365.7],[200,310.7,1253.7,1364.3]],
  [[dCtlaNeg,dCtlaPos],[dLagNeg,dLagPos],[dTimNeg,dTimPos],[dPdNeg,dPdPos]],
  [[76,1244.3,118,175,1243.7],[200.3,1244,242.3,299.7,1243.3],[75,1379,116.7,174,1378],[203.7,1377.7,245.7,302.7,1377]],
  ['Product',191.7,1096.7],['D',10,1109],
  {x:345,x2:421.7,y:[1132,1142.7,1153,1174],box:[318.3,1141,339.3,1184],sq:[1145.7,1166.7]},[57.3,1335,56.3,1301,1133.3]);
flowPanel([[73.7,184.3,1466,1576.7],[200,310.7,1466,1576.7],[71.7,182.7,1597.7,1708.3],[200,310.7,1597.7,1708.3]],
  [[eCtlaNeg,eCtlaPos],[eLagNeg,eLagPos],[eTimNeg,eTimPos],[ePdNeg,ePdPos]],
  [[76,1587.3,118,175,1586.7],[200.3,1586.7,242.3,299.7,1586],[75,1721.7,116.7,174,1721],[203.7,1720.3,245.7,302.7,1720]],
  ['Day 14',184,1444],['E',18,1461],
  {x:342.3,x2:419,y:[1481,1491.3,1501.7,1522.3],box:[315.7,1489.3,336,1532],sq:[1494,1515.3]},[57.3,1676.7,56.3,1643,1476]);
flowPanel([[68.7,179.3,1813.3,1924],[201,312,1813.3,1924],[68.7,179.3,1942,2052.7],[201,312.3,1942.7,2053.3]],
  [[fCtlaNeg,fCtlaPos],[fLagNeg,fLagPos],[fTimNeg,fTimPos],[fPdNeg,fPdPos]],
  [[77.7,1935.7,120,176.7,1934.7],[202.3,1935,244.3,301.3,1934],[77,2070.3,118.7,175.7,2069.7],[205.3,2069,247.7,304.3,2068]],
  ['Day 30',186.7,1793.7],['F',27,1812],
  {x:343.3,x2:419.7,y:[1825,1836,1847,1866.7],box:[316.7,1834,337,1876.7],sq:[1838.3,1860]},[57,2024.3,56,1990.7,1822.7]);

// ---- D-F paired plots
function pairedPanel(p){
  const perUnit=(p.y0-p.y100)/100, top=p.y0-125*perUnit;
  const xmin=(p.left-p.t0)/p.unit, xmax=(p.right-p.t0)/p.unit, side=.19;
  const sets=[];
  p.groups.forEach((g,i)=>{
    g.forEach(v=>sets.push({data:[{x:i-side,y:v[0]},{x:i+side,y:v[1]}],borderColor:'#000',borderWidth:1.1,clip:false,
      pointStyle:['circle','triangle'],pointRadius:[3,4],pointBorderWidth:[0,1.8],pointBorderColor:'#000',pointBackgroundColor:['#000','#fff']}));
    const b=p.brackets[i];
    sets.push({data:[{x:i-side,y:b[0]},{x:i-side,y:b[1]},{x:i+side,y:b[1]},{x:i+side,y:b[2]}],borderColor:'#000',borderWidth:1.8,pointRadius:0,clip:false});
    txt(p.pvals[i],p.t0+i*p.unit,p.pY,{size:14,font:ARIAL,color:'#111'});
    if(p.stars[i]) txt(p.stars[i],p.t0+i*p.unit,p.sY+3,{size:17.5,font:ARIAL,color:'#111'});
  });
  sets.push({data:[{x:xmin,y:0},{x:xmin,y:100}],borderColor:'#000',borderWidth:2,pointRadius:0,clip:false});
  makeChart({l:p.left,r:p.right,t:top,b:p.y0},{l:60,r:2,t:2,b:30},{type:'line',data:{datasets:sets},options:{scales:{
    x:{type:'linear',min:xmin,max:xmax,afterBuildTicks:fixedTicks([0,1,2,3]),border:{color:'#000',width:2},
      grid:{drawOnChartArea:false,tickLength:7,tickColor:'#000',tickWidth:2},
      ticks:{color:'#000',font:{family:ARIAL,size:15.5,weight:'bold'},maxRotation:0,autoSkip:false,padding:2,callback:v=>markers[v]}},
    y:{min:0,max:125,afterBuildTicks:fixedTicks([0,20,40,60,80,100]),border:{display:false},
      grid:{drawOnChartArea:false,tickLength:8,tickColor:'#000',tickWidth:2},
      ticks:{color:'#000',font:{family:ARIAL,size:15,weight:'bold'},autoSkip:false,padding:1,callback:v=>v}}
  }}});
  txt(p.title[0],p.title[1],p.title[2],{size:19,font:ARIAL,weight:'bold'});
  txt('% positive',p.yl[0],p.yl[1],{size:16.5,font:ARIAL,weight:'bold',rot:-90});
  const L=p.legend;
  txt('CD8 CAR<sup>+</sup>',L.x,L.y0,{size:17,left:1});
  line(L.x,L.ln,L.x2,L.ln,'#000',1);
  line(L.m0,L.y1,L.m1,L.y1,'#000',1);
  line(L.m0,L.y2,L.m1,L.y2,'#000',1);
  const mc=(L.m0+L.m1)/2;
  dot(mc,L.y1,2.8,'#000');
  overlay+=`<polygon points="${mc},${L.y2-4} ${mc+4},${L.y2+3} ${mc-4},${L.y2+3}" fill="#fff" stroke="#000" stroke-width="1.3"/>`;
  txt('TIGIT<sup>-</sup>',L.tx,L.y1,{size:17,left:1});
  txt('TIGIT<sup>+</sup>',L.tx,L.y2,{size:17,left:1});
}
pairedPanel({y0:1374,y100:1168.7,left:488.2,right:796.8,t0:523.2,unit:79.6,
  groups:[prodCtla,prodLag,prodTim,prodPd],brackets:prodBrackets,pvals:prodP,stars:prodStars,pY:1141.7,sY:1130,
  title:['Product',634,1100.7],yl:[435,1271.7],
  legend:{x:846.8,x2:925.4,y0:1152.7,ln:1161,m0:844,m1:866.4,y1:1182.7,y2:1213.3,tx:878}});
pairedPanel({y0:1721,y100:1506.3,left:494.6,right:816.4,t0:530.7,unit:83.2,
  groups:[d14Ctla,d14Lag,d14Tim,d14Pd],brackets:d14Brackets,pvals:d14P,stars:d14Stars,pY:1508.3,sY:1496.7,
  title:['Day 14',637.9,1465],yl:[438.6,1613],
  legend:{x:868,x2:951,y0:1490,ln:1499.3,m0:865.7,m1:889,y1:1520.7,y2:1553.3,tx:902}});
pairedPanel({y0:2073.7,y100:1856.3,left:490.4,right:817,t0:526,unit:84.7,
  groups:[d30Ctla,d30Lag,d30Tim,d30Pd],brackets:d30Brackets,pvals:d30P,stars:d30Stars,pY:1842,sY:1830.7,
  title:['Day 30',636.4,1794.3],yl:[432.5,1965],
  legend:{x:869.3,x2:952.9,y0:1839.3,ln:1848.7,m0:866.4,m1:890.7,y1:1870.7,y2:1903.3,tx:902.9}});

// overlay lines, arrows and legend keys
const holder=document.createElement('div');
holder.innerHTML=`<svg id="overlay" width="1238" height="2100">${overlay}</svg>`;
page.appendChild(holder.firstChild);
</script>
</body>
</html>
